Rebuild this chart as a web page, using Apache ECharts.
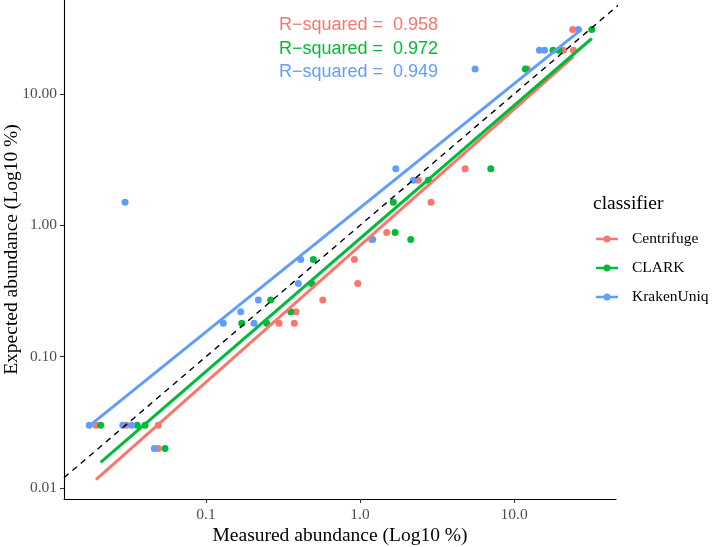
<!DOCTYPE html>
<html>
<head>
<meta charset="utf-8">
<script src="https://cdn.jsdelivr.net/npm/echarts@6/dist/echarts.min.js"></script>
<style>
html,body{margin:0;padding:0;background:#fff;}
#chart{width:714px;height:547px;}
</style>
</head>
<body>
<div id="chart"></div>
<script>
// ---- data (measured vs expected abundance, %) ----
var classifiers = ['Centrifuge', 'CLARK', 'KrakenUniq'];
var colors = ['#F8766D', '#00BA38', '#619CFF'];

var centrifugeMeasured = [0.0193, 0.0303, 0.049, 0.049, 0.298, 0.374, 0.384, 0.573, 0.966, 0.918, 1.19, 1.49, 2.89, 2.39, 4.81, 12.2, 20.9, 24.3, 24.0];
var centrifugeExpected = [0.03, 0.03, 0.03, 0.02, 0.18, 0.18, 0.22, 0.27, 0.36, 0.55, 0.78, 0.88, 1.5, 2.2, 2.7, 15.5, 21.5, 21.5, 31];

var clarkMeasured = [0.0207, 0.0358, 0.0402, 0.0542, 0.1706, 0.248, 0.355, 0.263, 0.486, 0.4975, 2.134, 1.688, 1.645, 2.777, 7.06, 11.84, 17.9, 19.6, 31.96];
var clarkExpected = [0.03, 0.03, 0.03, 0.02, 0.18, 0.18, 0.22, 0.27, 0.36, 0.55, 0.78, 0.88, 1.5, 2.2, 2.7, 15.5, 21.5, 21.5, 31];

var krakenMeasured = [0.01746, 0.0288, 0.0329, 0.0462, 0.0298, 0.1295, 0.205, 0.168, 0.2186, 0.3975, 0.412, 1.209, 2.219, 1.706, 5.58, 14.6, 15.78, 26.2];
var krakenExpected = [0.03, 0.03, 0.03, 0.02, 1.5, 0.18, 0.18, 0.22, 0.27, 0.36, 0.55, 0.78, 2.2, 2.7, 15.5, 21.5, 21.5, 31];

var rSquaredLabels = ['R\u2212squared =  0.958', 'R\u2212squared =  0.972', 'R\u2212squared =  0.949'];

var xTickValues = [0.1, 1, 10];
var yTickValues = [0.01, 0.1, 1, 10];
var xLimits = [0.011967, 45.9];
var yLimits = [0.00824, 52.0];

// ---- build ----
function pairs(xs, ys) { return xs.map(function (x, i) { return [x, ys[i]]; }); }
function lmFit(xs, ys) {
  var lx = xs.map(Math.log10), ly = ys.map(Math.log10), n = lx.length;
  var mx = lx.reduce(function (a, b) { return a + b; }, 0) / n;
  var my = ly.reduce(function (a, b) { return a + b; }, 0) / n;
  var sxy = 0, sxx = 0;
  for (var i = 0; i < n; i++) { sxy += (lx[i] - mx) * (ly[i] - my); sxx += (lx[i] - mx) * (lx[i] - mx); }
  var b = sxy / sxx, a = my - b * mx;
  var x0 = Math.min.apply(null, lx), x1 = Math.max.apply(null, lx);
  return [[Math.pow(10, x0), Math.pow(10, a + b * x0)], [Math.pow(10, x1), Math.pow(10, a + b * x1)]];
}

var measured = [centrifugeMeasured, clarkMeasured, krakenMeasured];
var expected = [centrifugeExpected, clarkExpected, krakenExpected];

var series = [];
classifiers.forEach(function (name, k) {
  series.push({
    name: name, type: 'scatter', symbol: 'circle', symbolSize: 7,
    itemStyle: { color: colors[k], opacity: 1 },
    data: pairs(measured[k], expected[k]), z: 2
  });
});
classifiers.forEach(function (name, k) {
  series.push({
    name: name, type: 'line', showSymbol: false, symbol: 'none',
    lineStyle: { color: colors[k], width: 3 }, itemStyle: { color: colors[k] },
    data: lmFit(measured[k], expected[k]), z: 3
  });
});
series.push({
  name: 'identity', type: 'line', showSymbol: false, symbol: 'none',
  lineStyle: { color: '#000', width: 1.4, type: [6, 5] },
  data: [[xLimits[0], xLimits[0]], [yLimits[1], yLimits[1]]], z: 4, clip: true
});

var legendIcon = 'path://M0,2.8 H22 V5.2 H0 Z M7.5,4 A3.5,3.5 0 1,1 14.5,4 A3.5,3.5 0 1,1 7.5,4 Z';

var graphics = rSquaredLabels.map(function (t, k) {
  return {
    type: 'text', left: 279, top: 16 + k * 23.7,
    style: { text: t, fill: colors[k], font: '18px "Liberation Sans", Arial, sans-serif' }
  };
});
graphics.push({
  type: 'text', left: 593, top: 194,
  style: { text: 'classifier', fill: '#000', font: '19.5px "Liberation Serif", serif' }
});

var chart = echarts.init(document.getElementById('chart'), null, { renderer: 'canvas' });
chart.setOption({
  animation: false,
  backgroundColor: '#fff',
  grid: { left: 64, right: 98, top: 0, bottom: 48, containLabel: false, outerBoundsMode: 'none' },
  xAxis: {
    type: 'log', logBase: 10, min: xLimits[0], max: xLimits[1],
    name: 'Measured abundance (Log10 %)', nameLocation: 'middle', nameGap: 27, nameMoveOverlap: false,
    nameTextStyle: { fontFamily: 'Liberation Serif', fontSize: 19.5, color: '#000' },
    axisLine: { show: true, onZero: false, lineStyle: { color: '#000', width: 1.1 } },
    axisTick: { show: true, length: 4, customValues: xTickValues, lineStyle: { color: '#333', width: 1.1 } },
    axisLabel: {
      customValues: xTickValues, margin: 8, color: '#4D4D4D', fontFamily: 'Liberation Serif', fontSize: 15.5,
      formatter: function (v) { return Number(v).toFixed(1); }
    },
    splitLine: { show: false }, minorTick: { show: false }
  },
  yAxis: {
    type: 'log', logBase: 10, min: yLimits[0], max: yLimits[1],
    name: 'Expected abundance (Log10 %)', nameLocation: 'middle', nameGap: 42, nameRotate: 90, nameMoveOverlap: false,
    nameTextStyle: { fontFamily: 'Liberation Serif', fontSize: 19.5, color: '#000' },
    axisLine: { show: true, onZero: false, lineStyle: { color: '#000', width: 1.1 } },
    axisTick: { show: true, length: 4, customValues: yTickValues, lineStyle: { color: '#333', width: 1.1 } },
    axisLabel: {
      customValues: yTickValues, margin: 7, color: '#4D4D4D', fontFamily: 'Liberation Serif', fontSize: 15.5,
      formatter: function (v) { return Number(v).toFixed(2); }
    },
    splitLine: { show: false }, minorTick: { show: false }
  },
  legend: {
    orient: 'vertical', left: 596, top: 231, padding: 0, itemWidth: 22, itemHeight: 8, itemGap: 13,
    selectedMode: false,
    data: classifiers.map(function (n) { return { name: n, icon: legendIcon }; }),
    textStyle: { fontFamily: 'Liberation Serif', fontSize: 15.5, color: '#000', lineHeight: 16, padding: [0, 0, 0, 9] }
  },
  graphic: graphics,
  series: series
});
</script>
</body>
</html>
